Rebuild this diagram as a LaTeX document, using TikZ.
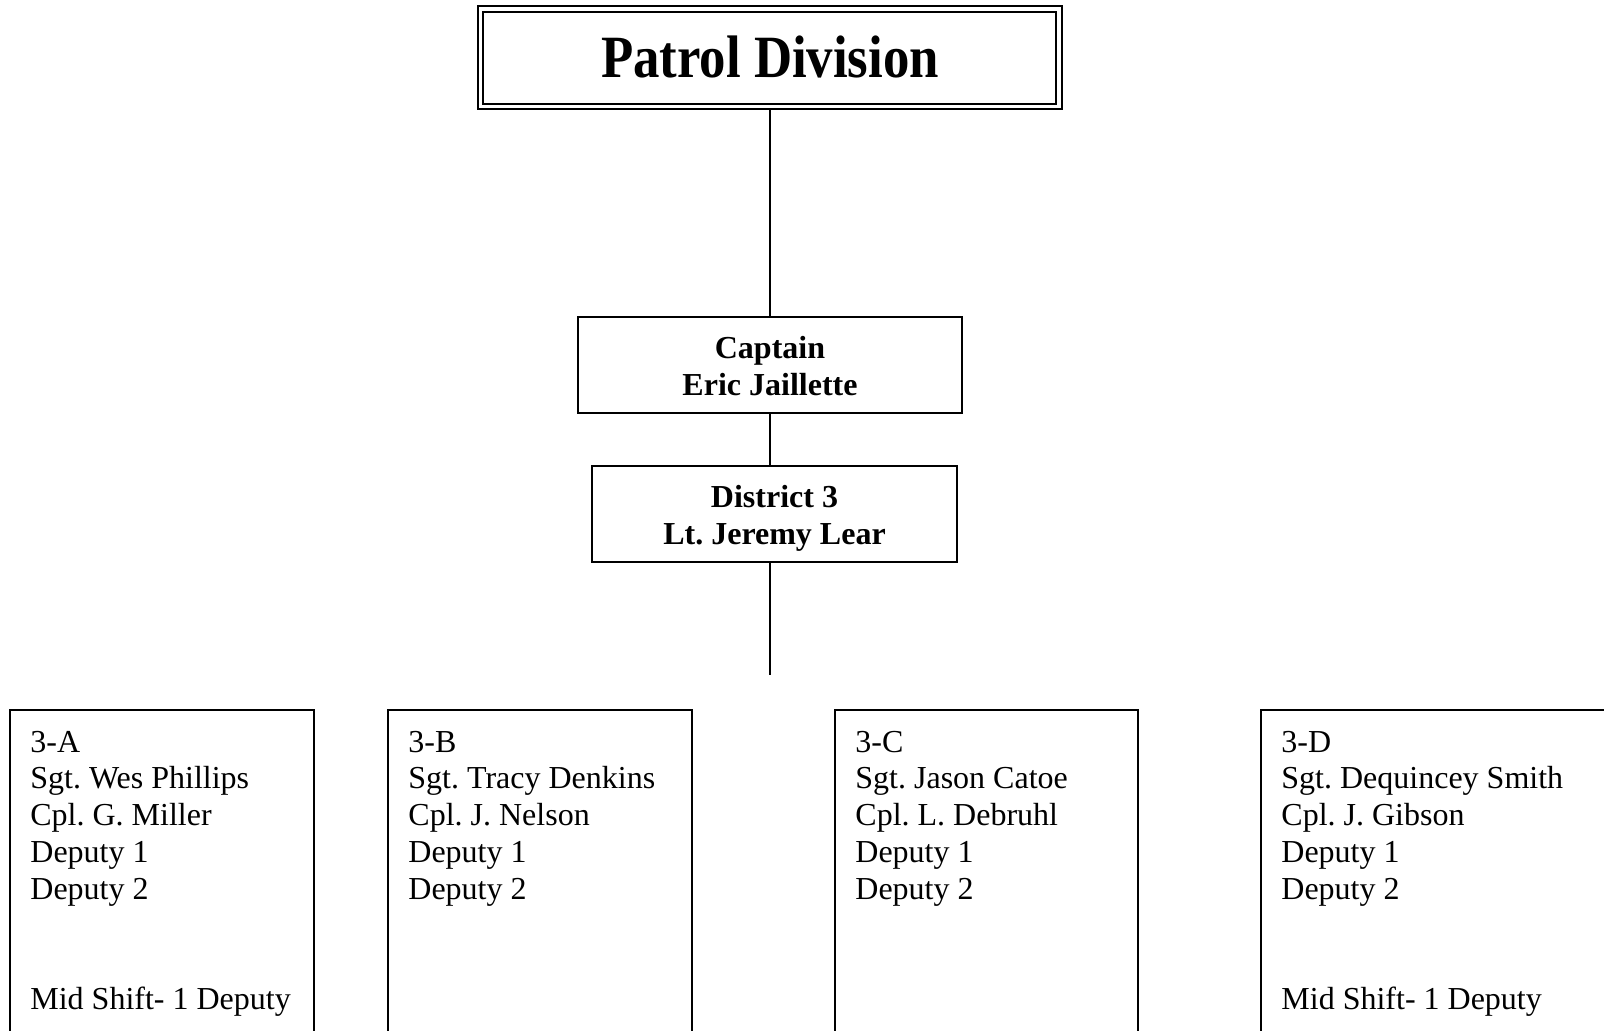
\documentclass[tikz,border=0pt]{standalone}
\usepackage{fontspec}
\setmainfont{Liberation Serif}
\newfontfamily\titlefont[FakeStretch=0.88]{Liberation Serif}
\frenchspacing
\begin{document}
\begin{tikzpicture}[x=0.5pt,y=-0.5pt,
  box/.style={draw, line width=1pt, rectangle, inner sep=0pt},
  conn/.style={line width=1pt},
  bodytext/.style={anchor=base west, inner sep=0pt, font=\fontsize{16}{18.4}\selectfont},
  headtext/.style={anchor=base, inner sep=0pt, font=\fontsize{16}{18.4}\selectfont\bfseries}]
\clip (0,0) rectangle (1604,1031);
\fill[white] (0,0) rectangle (1604,1031);
% title
\node[box, line width=1.4pt, minimum width=292pt, minimum height=51.5pt] (title) at (770,57.5) {};
\draw[line width=1pt] ([xshift=3pt,yshift=-3.5pt]title.north west) rectangle ([xshift=-3.5pt,yshift=3pt]title.south east);
\node[anchor=base, inner sep=0pt, font=\titlefont\fontsize{30}{36}\selectfont\bfseries] (titletext) at (770,78) {Patrol Division};
% captain
\node[box, minimum width=192pt, minimum height=48pt] (capt) at (770,365) {};
\node[headtext] (capt1) at (770,359) {Captain};
\node[headtext] (capt2) at (770,396) {Eric Jaillette};
% district
\node[box, minimum width=182.5pt, minimum height=48pt] (dist) at (774.5,514) {};
\node[headtext] (dist1) at (774.5,507.5) {District 3};
\node[headtext] (dist2) at (774.5,544.5) {Lt. Jeremy Lear};
% connectors
\draw[conn] (title.south) -- (capt.north);
\draw[conn] (capt.south) -- (capt.south |- dist.north);
\coordinate (tail) at (770,675);
\draw[conn] (dist.south -| capt.south) -- (tail);
% shift boxes
\node[box, minimum width=152pt, minimum height=200pt] (boxA) at (162,910) {};
\node[box, minimum width=152pt, minimum height=200pt] (boxB) at (540,910) {};
\node[box, minimum width=151.5pt, minimum height=200pt] (boxC) at (986.5,910) {};
\node[box, minimum width=200pt, minimum height=200pt] (boxD) at (1461,910) {};
% texts
\foreach \name/\x/\l/\s/\c/\m in {A/30/3-A/Sgt. Wes Phillips/Cpl. G. Miller/Mid Shift- 1 Deputy,
  B/408/3-B/Sgt. Tracy Denkins/Cpl. J. Nelson/,
  C/855/3-C/Sgt. Jason Catoe/Cpl. L. Debruhl/,
  D/1281/3-D/Sgt. Dequincey Smith/Cpl. J. Gibson/Mid Shift- 1 Deputy}{
  \node[bodytext] (t\name1) at (\x,752) {\l};
  \node[bodytext] (t\name2) at (\x,788.8) {\s};
  \node[bodytext] (t\name3) at (\x,825.6) {\c};
  \node[bodytext] (t\name4) at (\x,862.4) {Deputy 1};
  \node[bodytext] (t\name5) at (\x,899.2) {Deputy 2};
  \node[bodytext] (t\name6) at (\x,1009.5) {\m};
}
\end{tikzpicture}
\end{document}
